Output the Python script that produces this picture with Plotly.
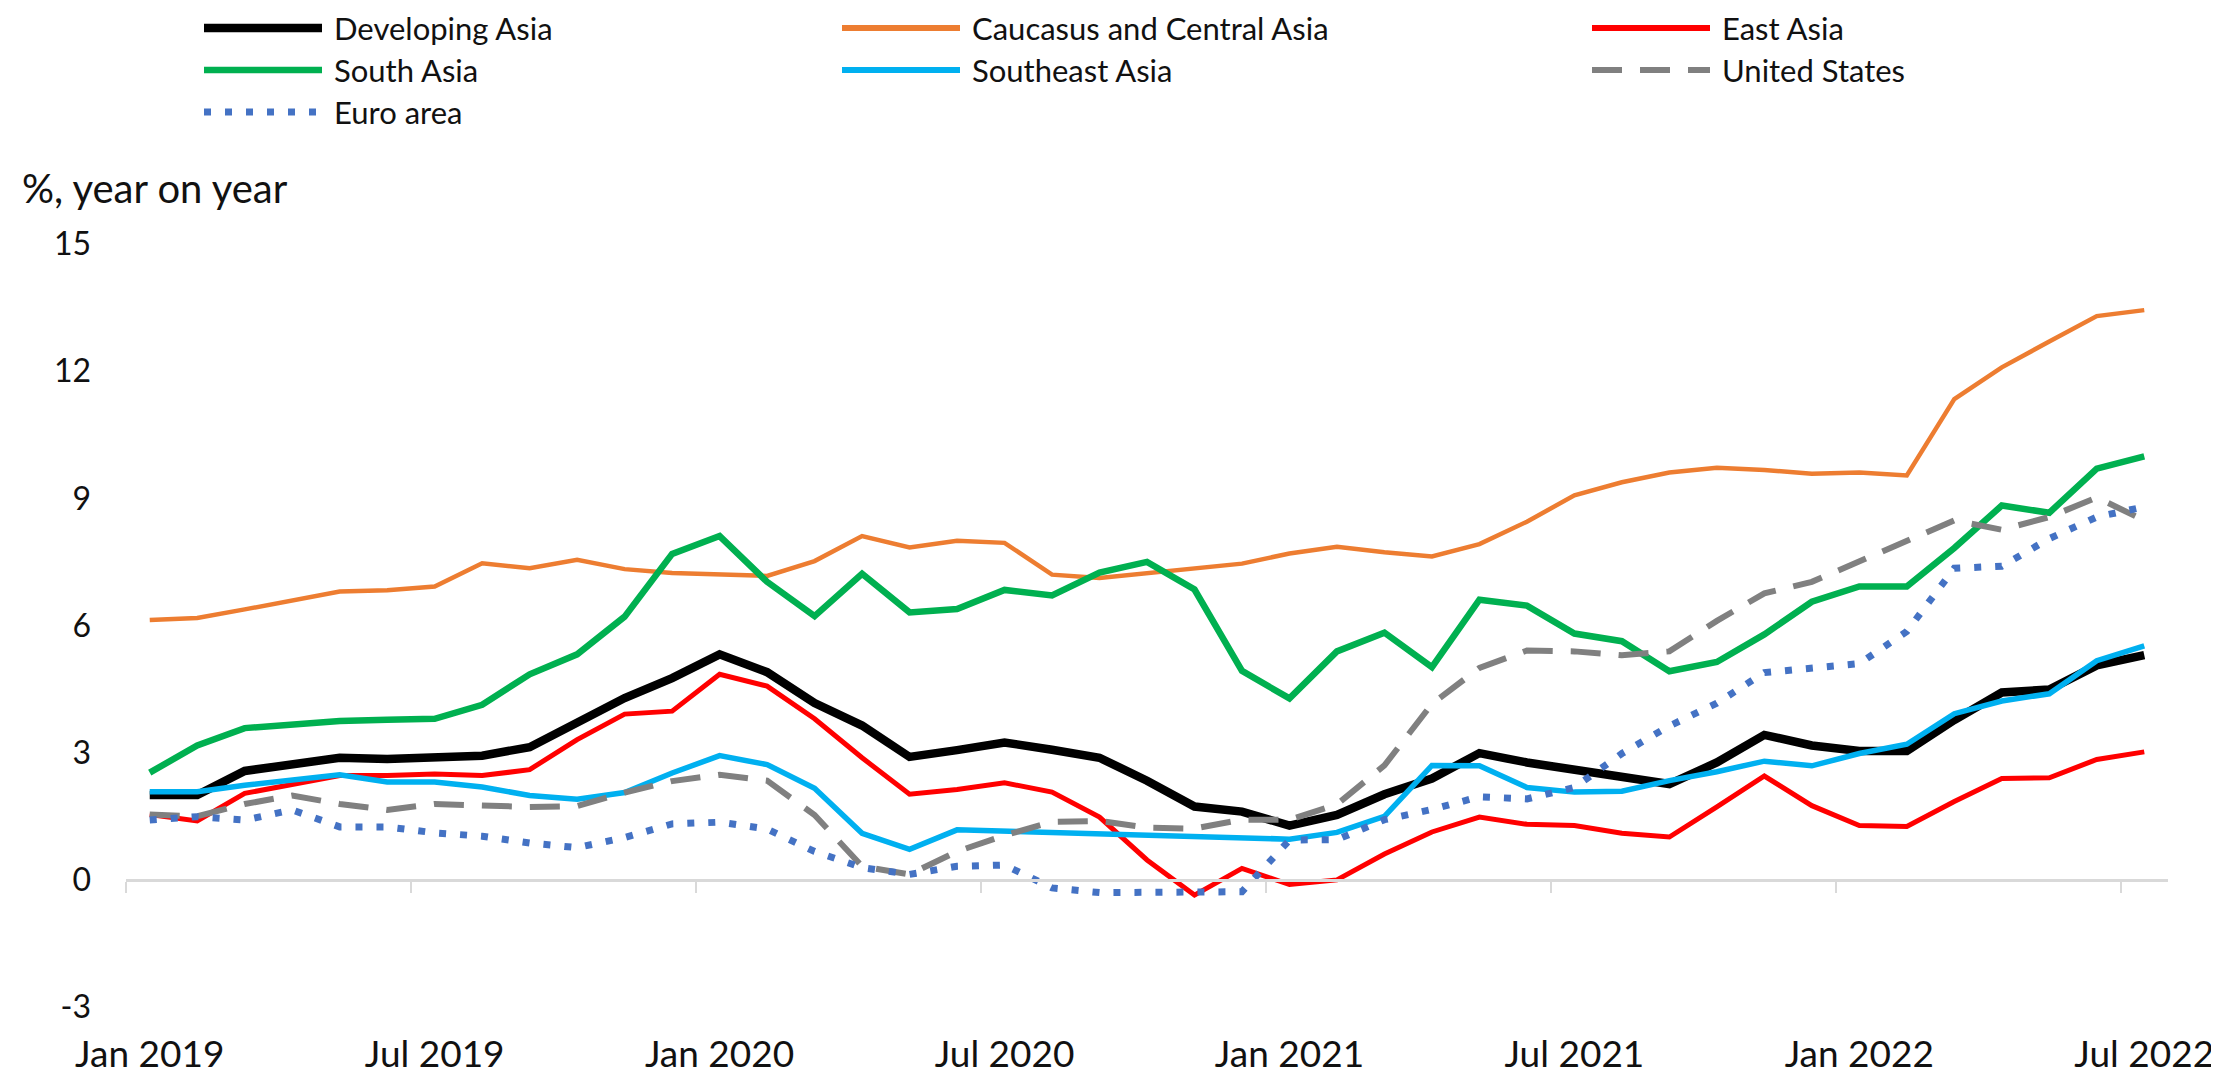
import plotly.graph_objects as go

# ---------------- data ----------------
months = [f"{m} {y}" for y in range(2019, 2023)
          for m in ["Jan", "Feb", "Mar", "Apr", "May", "Jun", "Jul", "Aug", "Sep", "Oct", "Nov", "Dec"]][:43]

developing_asia = [2.0, 2.0, 2.57, 2.74, 2.88, 2.85, 2.9, 2.93, 3.13, 3.69, 4.29, 4.76, 5.32,
                   4.9, 4.17, 3.64, 2.9, 3.06, 3.24, 3.07, 2.88, 2.34, 1.73, 1.61, 1.28,
                   1.53, 2.02, 2.39, 2.99, 2.77, 2.61, 2.45, 2.26, 2.77, 3.42, 3.17, 3.04,
                   3.04, 3.77, 4.42, 4.49, 5.06, 5.3]
caucasus_central_asia = [6.13, 6.18, 6.38, 6.6, 6.8, 6.83, 6.92, 7.47, 7.35, 7.55, 7.33, 7.24, 7.2,
                         7.17, 7.52, 8.11, 7.84, 8.0, 7.95, 7.2, 7.12, 7.23, 7.34, 7.46, 7.7,
                         7.86, 7.73, 7.63, 7.92, 8.45, 9.07, 9.38, 9.61, 9.72, 9.67, 9.58, 9.61,
                         9.54, 11.34, 12.09, 12.7, 13.3, 13.44]
east_asia = [1.54, 1.39, 2.04, 2.26, 2.46, 2.46, 2.5, 2.46, 2.6, 3.31, 3.91, 3.98, 4.85,
             4.57, 3.8, 2.88, 2.02, 2.13, 2.29, 2.07, 1.48, 0.47, -0.36, 0.27, -0.11,
             0.0, 0.61, 1.13, 1.48, 1.31, 1.28, 1.1, 1.01, 1.72, 2.45, 1.75, 1.28,
             1.26, 1.85, 2.39, 2.41, 2.84, 3.02]
south_asia = [2.53, 3.17, 3.58, 3.67, 3.75, 3.78, 3.8, 4.13, 4.85, 5.32, 6.21, 7.69, 8.11,
              7.03, 6.22, 7.22, 6.31, 6.39, 6.84, 6.71, 7.25, 7.5, 6.85, 4.93, 4.28,
              5.39, 5.83, 5.02, 6.61, 6.47, 5.81, 5.63, 4.92, 5.14, 5.79, 6.56, 6.92,
              6.92, 7.83, 8.83, 8.66, 9.7, 9.99]
southeast_asia = [2.08, 2.08, 2.23, 2.37, 2.48, 2.31, 2.31, 2.19, 1.99, 1.9, 2.06, 2.52, 2.93,
                  2.72, 2.16, 1.1, 0.72, 1.18, 1.15, 1.1, 1.1, 1.05, 1.02, 0.99, 0.96,
                  1.12, 1.5, 2.7, 2.69, 2.18, 2.07, 2.09, 2.34, 2.55, 2.8, 2.69, 2.98,
                  3.2, 3.92, 4.22, 4.39, 5.17, 5.52]
united_states = [1.54, 1.5, 1.79, 1.99, 1.79, 1.65, 1.79, 1.74, 1.72, 1.74, 2.06, 2.33, 2.48,
                 2.34, 1.53, 0.32, 0.13, 0.67, 1.05, 1.37, 1.39, 1.23, 1.21, 1.42, 1.42,
                 1.78, 2.7, 4.15, 5.0, 5.41, 5.39, 5.3, 5.39, 6.11, 6.76, 7.03, 7.51,
                 8.0, 8.48, 8.26, 8.56, 9.02, 8.48]
euro_area = [1.41, 1.49, 1.41, 1.65, 1.25, 1.25, 1.11, 1.03, 0.87, 0.76, 1.0, 1.32, 1.36,
             1.2, 0.67, 0.29, 0.13, 0.32, 0.35, -0.19, -0.3, -0.3, -0.28, -0.28, 0.94,
             0.95, 1.42, 1.66, 1.96, 1.91, 2.18, 2.98, 3.63, 4.17, 4.89, 5.0, 5.1,
             5.86, 7.35, 7.4, 8.05, 8.56, 8.8]

x_tick_labels = ["Jan 2019", "Jul 2019", "Jan 2020", "Jul 2020",
                 "Jan 2021", "Jul 2021", "Jan 2022", "Jul 2022"]
y_tick_values = [-3, 0, 3, 6, 9, 12, 15]
y_tick_labels = ["-3", "0", "3", "6", "9", "12", "15"]

# ---------------- styles ----------------
series = [
    ("Developing Asia", developing_asia, "#000000", 8.5, "solid"),
    ("Caucasus and Central Asia", caucasus_central_asia, "#ED7D31", 4.5, "solid"),
    ("East Asia", east_asia, "#FF0000", 5, "solid"),
    ("South Asia", south_asia, "#00B050", 6.5, "solid"),
    ("Southeast Asia", southeast_asia, "#00B0F0", 5.5, "solid"),
    ("United States", united_states, "#808080", 6, "30px,18px"),
    ("Euro area", euro_area, "#4472C4", 7, "7px,14px"),
]
# legend slots (column, row)
legend_slots = [(0, 0), (1, 0), (2, 0), (0, 1), (1, 1), (2, 1), (0, 2)]

W, H = 2219, 1071
L, R, T, B = 118, 59, 236, 55
YMIN, YMAX = -3.4, 15
FONT = "Lato, 'Open Sans', sans-serif"
TXT = "#111111"

plot_w = W - L - R
plot_h = H - T - B


def px_x(px):
    return (px - L) / plot_w


def px_y(py):
    return (H - B - py) / plot_h


fig = go.Figure()
for name, vals, color, width, dash in series:
    fig.add_trace(go.Scatter(
        x=months, y=vals, mode="lines", name=name,
        line=dict(color=color, width=width, dash=dash),
        showlegend=False, hoverinfo="x+y+name",
    ))

# invisible helper so the zero-line axis (x2) is always rendered
fig.add_trace(go.Scatter(x=[-0.5, 42.5], y=[0, 0], xaxis="x2", yaxis="y",
                         mode="lines", line=dict(color="rgba(0,0,0,0)", width=0),
                         showlegend=False, hoverinfo="skip"))

# manual legend (layout decoration)
col_text_px = [324, 962, 1712]
row_px = [20, 62, 104]
shapes = []
annotations = []
for (name, vals, color, width, dash), (c, r) in zip(series, legend_slots):
    tx = col_text_px[c]
    yy = px_y(row_px[r])
    shapes.append(dict(type="line", xref="paper", yref="paper",
                       x0=px_x(tx - 128), x1=px_x(tx - 10), y0=yy, y1=yy,
                       line=dict(color=color, width=max(width, 6), dash=dash)))
    annotations.append(dict(text=name, xref="paper", yref="paper",
                            x=px_x(tx), y=yy, xanchor="left", yanchor="middle",
                            showarrow=False, font=dict(family=FONT, size=31, color=TXT)))

annotations.append(dict(text="%, year on year", xref="paper", yref="paper",
                        x=px_x(12), y=px_y(180), xanchor="left", yanchor="middle",
                        showarrow=False, font=dict(family=FONT, size=40, color=TXT)))

fig.update_layout(
    width=W, height=H,
    margin=dict(l=L, r=R, t=T, b=B, autoexpand=False),
    paper_bgcolor="white", plot_bgcolor="white",
    showlegend=False,
    shapes=shapes, annotations=annotations,
    xaxis=dict(type="category", range=[-0.5, 42.5], tickmode="array",
               tickvals=[months[i] for i in range(0, 43, 6)], ticktext=x_tick_labels,
               showgrid=False, zeroline=False, showline=False, ticks="",
               ticklabelstandoff=5,
               tickfont=dict(family=FONT, size=37, color=TXT)),
    xaxis2=dict(overlaying="x", anchor="free", position=(0 - YMIN) / (YMAX - YMIN),
                range=[-0.5, 42.5], type="linear", tickmode="array",
                tickvals=[i - 0.5 for i in range(0, 43, 6)],
                showticklabels=False, showgrid=False, zeroline=False,
                showline=True, linecolor="#D9D9D9", linewidth=3,
                ticks="outside", ticklen=11, tickwidth=2, tickcolor="#D9D9D9"),
    yaxis=dict(range=[YMIN, YMAX], tickmode="array", tickvals=y_tick_values,
               ticktext=y_tick_labels, showgrid=False, zeroline=False,
               showline=False, ticks="", ticklabelstandoff=34,
               tickfont=dict(family=FONT, size=32, color=TXT)),
)

fig.write_html("out.html")
